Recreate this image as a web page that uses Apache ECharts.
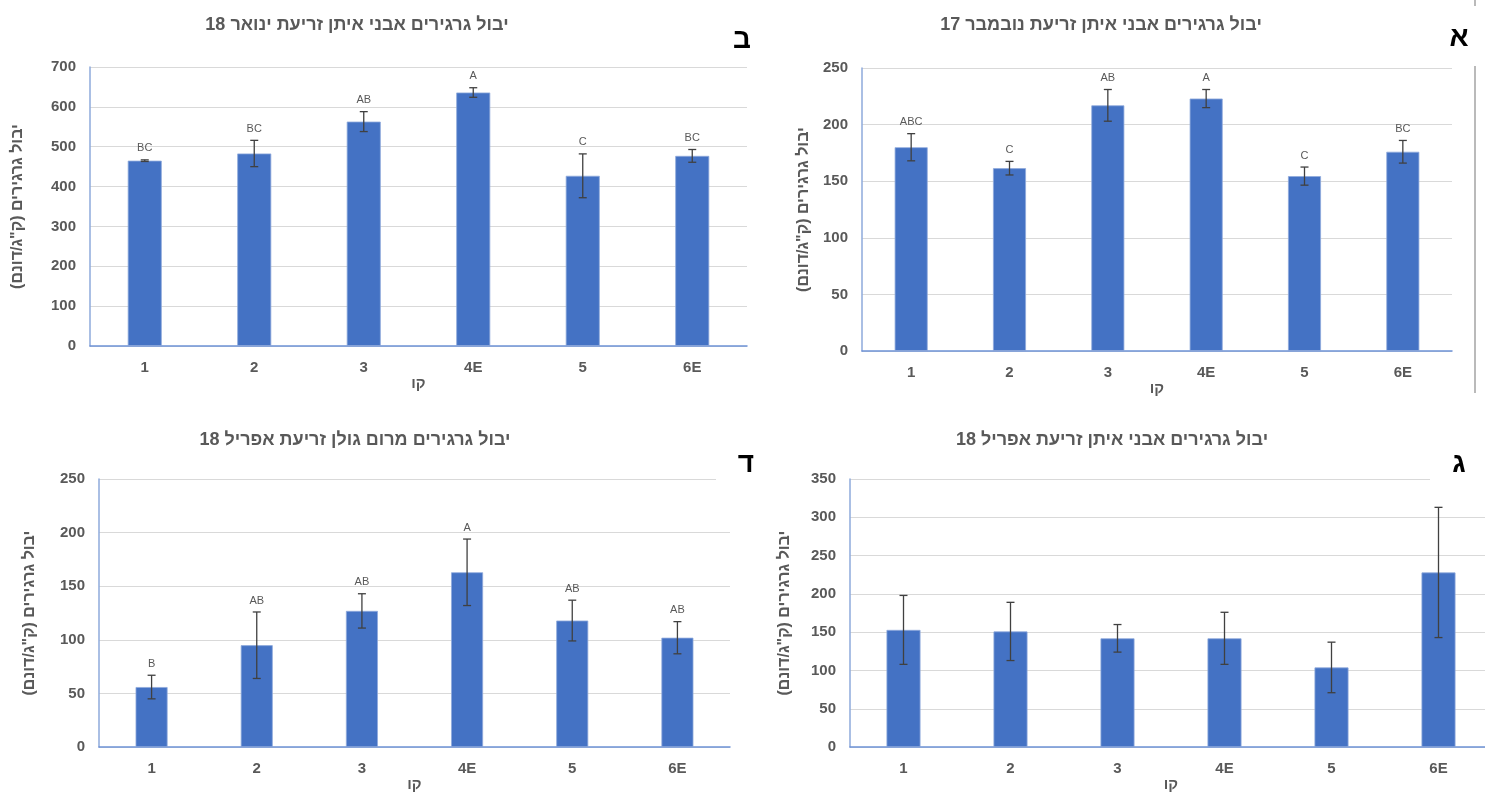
<!DOCTYPE html>
<html>
<head>
<meta charset="utf-8">
<script src="https://cdn.jsdelivr.net/npm/echarts@6/dist/echarts.min.js"></script>
<style>
html,body{margin:0;padding:0;background:#fff;overflow:hidden;}
#c{width:1500px;height:793px;direction:rtl;}
</style>
</head>
<body>
<div id="c"></div>
<script>
const categories = ['1', '2', '3', '4E', '5', '6E'];

const novTitle = 'יבול גרגירים אבני איתן זריעת נובמבר 17';
const novMeans = [180, 161.5, 217, 223, 154.5, 176];
const novErr = [12, 6, 14, 8, 8, 10];
const novLetters = ['ABC', 'C', 'AB', 'A', 'C', 'BC'];

const janTitle = 'יבול גרגירים אבני איתן זריעת ינואר 18';
const janMeans = [465, 483, 563, 636, 427, 477];
const janErr = [2, 33, 25, 12, 55, 16];
const janLetters = ['BC', 'BC', 'AB', 'A', 'C', 'BC'];

const aprTitle = 'יבול גרגירים אבני איתן זריעת אפריל 18';
const aprMeans = [153, 151, 142, 142, 104, 228];
const aprErr = [45, 38, 18, 34, 33, 85];
const aprLetters = ['', '', '', '', '', ''];

const golTitle = 'יבול גרגירים מרום גולן זריעת אפריל 18';
const golMeans = [56, 95, 127, 163, 118, 102];
const golErr = [11, 31, 16, 31, 19, 15];
const golLetters = ['B', 'AB', 'AB', 'A', 'AB', 'AB'];

const yName = 'יבול גרגירים (ק"ג/דונם)';
const xName = 'קו';

const FONT = '"Liberation Sans", "DejaVu Sans", sans-serif';
const GRAY = '#595959';
const BAR = '#4472c4';

const panels = [
  {title: janTitle, means: janMeans, err: janErr, letters: janLetters, max: 700, interval: 100,
   grid: {left: 90, top: 67, width: 657, height: 279}, nameGap: 64, titleX: 352, barW: 34},
  {title: novTitle, means: novMeans, err: novErr, letters: novLetters, max: 250, interval: 50,
   grid: {left: 862, top: 68, width: 590, height: 283}, nameGap: 50, titleX: 1096, barW: 33},
  {title: golTitle, means: golMeans, err: golErr, letters: golLetters, max: 250, interval: 50,
   grid: {left: 99, top: 479, width: 631, height: 277}, nameGap: 61, titleX: 350, barW: 32},
  {title: aprTitle, means: aprMeans, err: aprErr, letters: aprLetters, max: 350, interval: 50,
   grid: {left: 850, top: 479, width: 642, height: 272}, nameGap: 57, titleX: 1107, barW: 34}
];

const titleY = [11, 11, 426, 426];

const option = {
  animation: false,
  backgroundColor: '#fff',
  title: panels.map((p, i) => ({
    text: p.title, left: p.titleX, top: titleY[i], textAlign: 'center',
    textStyle: {fontFamily: FONT, fontSize: 18, fontWeight: 'bold', color: GRAY}
  })),
  grid: panels.map(p => Object.assign({containLabel: false}, p.grid)),
  xAxis: panels.map((p, i) => ({
    type: 'category', gridIndex: i, data: categories,
    name: xName, nameLocation: 'middle', nameGap: 25,
    nameTextStyle: {fontFamily: FONT, fontSize: 15, fontWeight: 'bold', color: GRAY},
    axisLine: {lineStyle: {color: '#6e92d6', width: 1.5}},
    axisTick: {show: false},
    axisLabel: {fontFamily: FONT, fontSize: 15, fontWeight: 'bold', color: GRAY, margin: 14}
  })),
  yAxis: panels.map((p, i) => ({
    type: 'value', gridIndex: i, min: 0, max: p.max, interval: p.interval,
    name: yName, nameLocation: 'middle', nameGap: p.nameGap, nameRotate: 90,
    nameTextStyle: {fontFamily: FONT, fontSize: 16, fontWeight: 'bold', color: GRAY},
    axisLine: {show: true, lineStyle: {color: '#8eaadb', width: 1.5}},
    axisTick: {show: false},
    axisLabel: {fontFamily: FONT, fontSize: 15, fontWeight: 'bold', color: GRAY, margin: 14},
    splitLine: {lineStyle: {color: '#d9d9d9', width: 1.2}}
  })),
  series: []
};

panels.forEach((p, i) => {
  option.series.push({
    type: 'bar', xAxisIndex: i, yAxisIndex: i, data: p.means, barWidth: p.barW,
    itemStyle: {color: BAR, borderColor: '#8faadc', borderWidth: 0.8}, z: 2
  });
  option.series.push({
    type: 'custom', xAxisIndex: i, yAxisIndex: i, z: 5,
    data: p.means.map((m, k) => [k, m - p.err[k], m + p.err[k]]),
    renderItem: function (params, api) {
      const x = api.coord([api.value(0), 0])[0];
      const lo = api.coord([api.value(0), api.value(1)])[1];
      const hi = api.coord([api.value(0), api.value(2)])[1];
      const label = p.letters[params.dataIndex];
      const st = {stroke: '#404040', lineWidth: 1.3};
      const children = [
        {type: 'line', shape: {x1: x, y1: hi, x2: x, y2: lo}, style: st},
        {type: 'line', shape: {x1: x - 4, y1: hi, x2: x + 4, y2: hi}, style: st},
        {type: 'line', shape: {x1: x - 4, y1: lo, x2: x + 4, y2: lo}, style: st}
      ];
      if (label) {
        children.push({type: 'text', style: {text: label, x: x, y: hi - 6, align: 'center', verticalAlign: 'bottom',
          fill: GRAY, font: '11px ' + FONT}});
      }
      return {type: 'group', children: children};
    }
  });
});

option.graphic = [
  {type: 'rect', shape: {x: 716, y: 470, width: 30, height: 20}, style: {fill: '#fff'}, z: 10},
  {type: 'rect', shape: {x: 1430, y: 470, width: 70, height: 20}, style: {fill: '#fff'}, z: 10},
  {type: 'line', shape: {x1: 1475, y1: 0, x2: 1475, y2: 6}, style: {stroke: '#8c8c8c', lineWidth: 1.2}, z: 10},
  {type: 'line', shape: {x1: 1475, y1: 66, x2: 1475, y2: 393}, style: {stroke: '#8c8c8c', lineWidth: 1.2}, z: 10},
  {type: 'text', style: {text: 'ב', x: 742, y: 40, align: 'center', verticalAlign: 'middle', fill: '#000', font: 'bold 28px ' + FONT}, z: 11},
  {type: 'text', style: {text: 'א', x: 1459, y: 38, align: 'center', verticalAlign: 'middle', fill: '#000', font: 'bold 28px ' + FONT}, z: 11},
  {type: 'text', style: {text: 'ד', x: 746, y: 464, align: 'center', verticalAlign: 'middle', fill: '#000', font: 'bold 28px ' + FONT}, z: 11},
  {type: 'text', style: {text: 'ג', x: 1459, y: 464, align: 'center', verticalAlign: 'middle', fill: '#000', font: 'bold 28px ' + FONT}, z: 11}
];

const chart = echarts.init(document.getElementById('c'), null, {renderer: 'canvas'});
chart.setOption(option);
</script>
</body>
</html>
